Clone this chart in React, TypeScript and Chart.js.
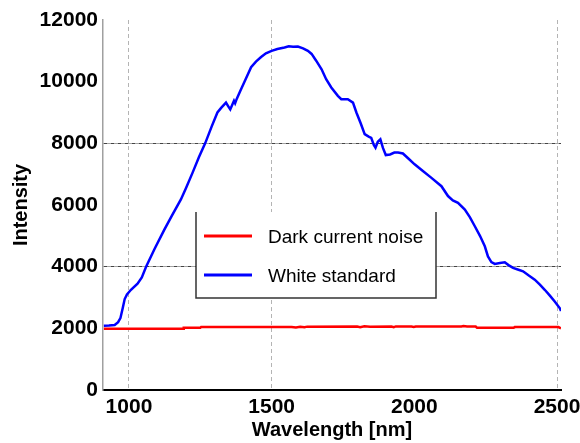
import React, { useEffect, useRef } from 'react';
import { Chart, registerables } from 'chart.js';

Chart.register(...registerables);

// ---- data ----
const whiteWavelength = [
  912, 930, 950, 962, 970, 978, 985, 993, 1007, 1030, 1045, 1060, 1090, 1124, 1150, 1182, 1200, 1223, 1245,
  1267, 1290, 1310, 1323, 1340, 1348, 1355, 1362, 1368, 1372, 1378, 1390, 1404, 1428, 1445, 1463, 1480, 1500,
  1520, 1545, 1560, 1575, 1592, 1610, 1627, 1640, 1656, 1675, 1691, 1709, 1732, 1744, 1767, 1785, 1797, 1812,
  1826, 1840, 1849, 1858, 1864, 1872, 1881, 1890, 1900, 1915, 1930, 1943, 1960, 1980, 2001, 2030, 2060, 2095,
  2118, 2135, 2153, 2177, 2195, 2212, 2230, 2247, 2258, 2270, 2282, 2300, 2317, 2330, 2346, 2365, 2381, 2400,
  2422, 2440, 2457, 2475, 2492, 2510, 2514,
];
const whiteIntensity = [
  2080, 2090, 2110, 2200, 2330, 2650, 2950, 3100, 3250, 3450, 3650, 4000, 4580, 5200, 5650, 6180, 6550, 7050, 7550,
  8000, 8550, 9000, 9150, 9320, 9200, 9100, 9250, 9380, 9300, 9450, 9700, 9980, 10470, 10650, 10800, 10920, 11000,
  11060, 11110, 11150, 11130, 11140, 11080, 11000, 10900, 10680, 10400, 10080, 9810, 9540, 9430, 9430, 9320, 9000, 8650,
  8300, 8220, 8180, 7950, 7860, 8050, 8130, 7850, 7620, 7640, 7700, 7700, 7670, 7500, 7320, 7100, 6880, 6610,
  6290, 6150, 6070, 5850, 5600, 5310, 5000, 4660, 4330, 4150, 4090, 4120, 4140, 4050, 3960, 3900, 3850, 3720,
  3580, 3420, 3250, 3060, 2870, 2650, 2560,
];
const darkWavelength = [
  912, 1190, 1192, 1250, 1253, 1570, 1585, 1600, 1615, 1625, 1800, 1810, 1825, 1845, 1920, 1928, 1935, 1990,
  1998, 2005, 2165, 2172, 2185, 2215, 2220, 2348, 2352, 2505, 2514,
];
const darkIntensity = [
  1985, 1985, 2015, 2015, 2045, 2045, 2030, 2050, 2035, 2055, 2060, 2040, 2070, 2055, 2060, 2040, 2062, 2060,
  2045, 2060, 2060, 2075, 2060, 2060, 2015, 2015, 2040, 2040, 2000,
];
const seriesLabels = ['Dark current noise', 'White standard'];
const xTickValues = [1000, 1500, 2000, 2500];
const xGridValues = [1000, 1500, 2500];
const yGridValues = [4000, 8000];

const FONT = "'Liberation Sans', Arial, sans-serif";

const legendBox = {
  id: 'legendBox',
  afterDatasetsDraw(chart: any) {
    const ctx = chart.ctx;
    const left = 196, top = 212, right = 436, bottom = 298;
    ctx.save();
    ctx.fillStyle = '#ffffff';
    ctx.fillRect(left, top, right - left, bottom - top);
    ctx.strokeStyle = '#333333';
    ctx.lineWidth = 1.5;
    ctx.beginPath();
    ctx.moveTo(left, top);
    ctx.lineTo(left, bottom);
    ctx.lineTo(right, bottom);
    ctx.lineTo(right, top);
    ctx.stroke();
    const rows = [236, 275];
    chart.data.datasets.forEach((ds: any, i: number) => {
      ctx.strokeStyle = ds.borderColor;
      ctx.lineWidth = 3;
      ctx.beginPath();
      ctx.moveTo(204, rows[i]);
      ctx.lineTo(252, rows[i]);
      ctx.stroke();
      ctx.fillStyle = '#000000';
      ctx.font = `19px ${FONT}`;
      ctx.textBaseline = 'middle';
      ctx.textAlign = 'left';
      ctx.fillText(ds.label, 268, rows[i] + 2);
    });
    ctx.restore();
  },
};

export default function App() {
  const ref = useRef<HTMLCanvasElement | null>(null);
  useEffect(() => {
    if (!ref.current) return;
    const chart = new Chart(ref.current, {
      type: 'line',
      data: {
        datasets: [
          {
            label: seriesLabels[0],
            data: darkWavelength.map((x, i) => ({ x, y: darkIntensity[i] })),
            borderColor: '#ff0000',
            borderWidth: 2.5,
            pointRadius: 0,
            tension: 0,
          },
          {
            label: seriesLabels[1],
            data: whiteWavelength.map((x, i) => ({ x, y: whiteIntensity[i] })),
            borderColor: '#0000ff',
            borderWidth: 2.5,
            pointRadius: 0,
            tension: 0,
          },
        ],
      },
      options: {
        animation: false,
        responsive: false,
        devicePixelRatio: 1,
        layout: { padding: { top: 20, right: 19, left: 0, bottom: 0 } },
        plugins: { legend: { display: false }, tooltip: { enabled: false } },
        scales: {
          x: {
            type: 'linear',
            min: 909,
            max: 2514,
            afterBuildTicks: (scale: any) => {
              scale.ticks = xTickValues.map((v) => ({ value: v }));
            },
            afterFit: (scale: any) => {
              scale.height = 53;
              scale.paddingLeft = 0;
              scale.paddingRight = 0;
            },
            grid: {
              drawTicks: false,
              lineWidth: 1,
              color: (ctx: any) => (ctx.tick && xGridValues.includes(ctx.tick.value) ? '#b4b4b4' : 'rgba(0,0,0,0)'),
            },
            border: { display: true, color: '#000000', width: 2, dash: [4, 3] },
            ticks: {
              padding: 5,
              color: '#000000',
              font: { family: FONT, size: 21, weight: 'bold' },
              maxRotation: 0,
              autoSkip: false,
              callback: (v: any) => String(v),
            },
            title: {
              display: true,
              text: 'Wavelength [nm]',
              color: '#000000',
              font: { family: FONT, size: 20, weight: 'bold' },
              padding: { top: 0, bottom: 1 },
            },
          },
          y: {
            type: 'linear',
            min: 0,
            max: 12000,
            afterFit: (scale: any) => {
              scale.width = 103;
              scale.paddingTop = 0;
              scale.paddingBottom = 0;
            },
            grid: {
              drawTicks: false,
              lineWidth: 1,
              color: (ctx: any) => (ctx.tick && yGridValues.includes(ctx.tick.value) ? '#444444' : 'rgba(0,0,0,0)'),
            },
            border: { display: true, color: '#a0a0a0', width: 1.5, dash: [4, 1, 1, 1] },
            ticks: {
              stepSize: 2000,
              padding: 5,
              color: '#000000',
              font: { family: FONT, size: 21, weight: 'bold' },
              callback: (v: any) => String(v),
            },
            title: {
              display: true,
              text: 'Intensity',
              color: '#000000',
              font: { family: FONT, size: 20, weight: 'bold' },
              padding: { top: 9, bottom: 0 },
            },
          },
        },
      },
      plugins: [legendBox],
    } as any);
    return () => chart.destroy();
  }, []);
  return (
    <div style={{ position: 'absolute', left: 0, top: 0, width: 580, height: 443 }}>
      <canvas ref={ref} width={580} height={443} />
    </div>
  );
}
